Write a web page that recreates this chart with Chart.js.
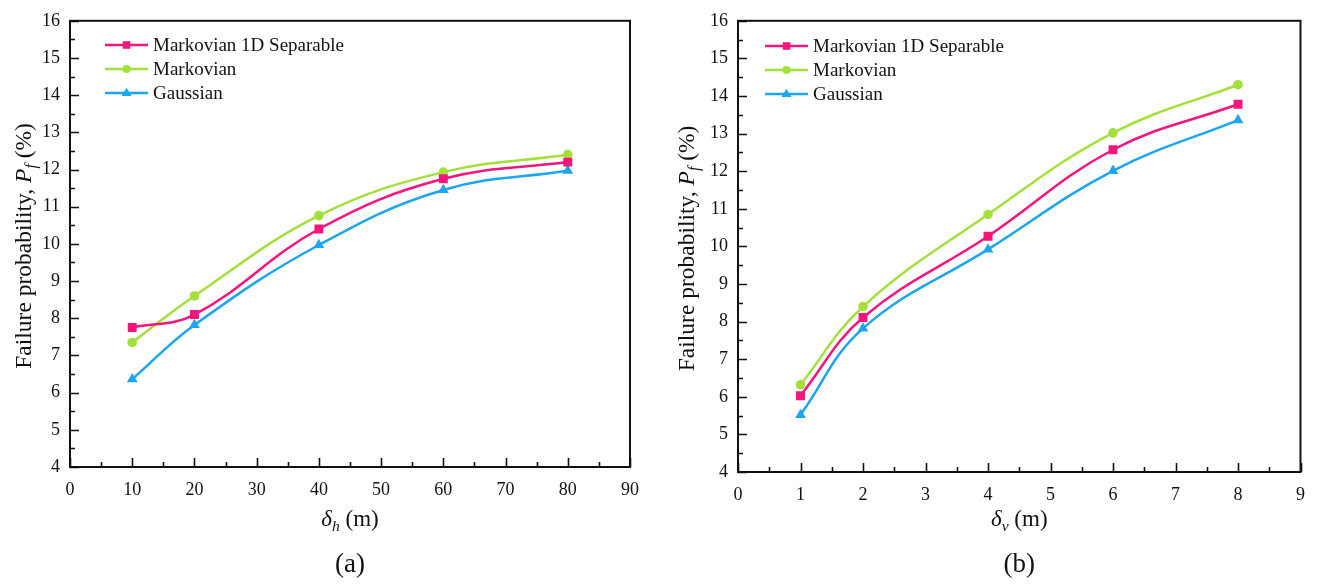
<!DOCTYPE html>
<html>
<head>
<meta charset="utf-8">
<script src="https://cdn.jsdelivr.net/npm/chart.js@4"></script>
<style>
  html, body { margin: 0; padding: 0; background: #fff; }
  body { width: 1317px; height: 585px; position: relative; overflow: hidden; }
  .box { position: absolute; top: 0; height: 585px; }
  #boxA { left: 0; width: 658px; }
  #boxB { left: 658px; width: 659px; }
</style>
</head>
<body>
<div class="box" id="boxA"><canvas id="cA"></canvas></div>
<div class="box" id="boxB"><canvas id="cB"></canvas></div>
<script>
// ---- data ----
const seriesNames = ['Markovian 1D Separable', 'Markovian', 'Gaussian'];
const xH = [10, 20, 40, 60, 80];
const sepH = [7.75, 8.10, 10.40, 11.75, 12.20];
const markH = [7.35, 8.60, 10.76, 11.93, 12.40];
const gaussH = [6.36, 7.82, 9.97, 11.45, 11.97];
const xV = [1, 2, 4, 6, 8];
const sepV = [6.03, 8.11, 10.27, 12.57, 13.78];
const markV = [6.32, 8.40, 10.85, 13.02, 14.30];
const gaussV = [5.52, 7.82, 9.92, 12.01, 13.36];
const yTicks = [4, 5, 6, 7, 8, 9, 10, 11, 12, 13, 14, 15, 16];
const xTicksH = [0, 10, 20, 30, 40, 50, 60, 70, 80, 90];
const xTicksV = [0, 1, 2, 3, 4, 5, 6, 7, 8, 9];

const COLORS = ['#F5157C', '#A3E03A', '#1BA5F2'];
const STYLES = ['rect', 'circle', 'triangle'];
const RADII = [6.3, 4.8, 6.2];
const FONT = '"Liberation Serif", "Times New Roman", serif';

function pts(xs, ys) { return xs.map((x, i) => ({ x: x, y: ys[i] })); }

function drawRich(ctx, parts, size) {
  let total = 0;
  const widths = parts.map(p => {
    const s = p.sub ? size * 0.68 : size;
    ctx.font = (p.italic ? 'italic ' : '') + s + 'px ' + FONT;
    const w = ctx.measureText(p.t).width;
    total += w;
    return w;
  });
  let x = -total / 2;
  parts.forEach((p, i) => {
    const s = p.sub ? size * 0.68 : size;
    ctx.font = (p.italic ? 'italic ' : '') + s + 'px ' + FONT;
    ctx.fillText(p.t, x, p.sub ? size * 0.28 : 0);
    x += widths[i];
  });
}

function marker(ctx, style, x, y, r, color) {
  ctx.save();
  ctx.fillStyle = color;
  ctx.beginPath();
  if (style === 'rect') {
    const s = r * Math.SQRT1_2;
    ctx.rect(x - s, y - s, 2 * s, 2 * s);
  } else if (style === 'circle') {
    ctx.arc(x, y, r, 0, Math.PI * 2);
  } else {
    const a = r;
    ctx.moveTo(x, y - a);
    ctx.lineTo(x + a * 0.95, y + a * 0.55);
    ctx.lineTo(x - a * 0.95, y + a * 0.55);
    ctx.closePath();
  }
  ctx.fill();
  ctx.restore();
}

function makeChart(id, cfg) {
  const decor = {
    id: 'decor',
    afterDraw(chart) {
      const ctx = chart.ctx;
      const a = chart.chartArea;
      const xs = chart.scales.x, ys = chart.scales.y;
      ctx.save();
      // frame
      ctx.strokeStyle = '#111';
      ctx.lineWidth = 2;
      ctx.strokeRect(a.left, a.top, a.right - a.left, a.bottom - a.top);
      // y ticks (inward)
      ctx.lineWidth = 1.6;
      ctx.beginPath();
      for (let v = ys.min; v <= ys.max + 1e-9; v += 0.5) {
        const py = Math.round(ys.getPixelForValue(v)) + 0.5;
        const major = Math.abs(v - Math.round(v)) < 1e-9;
        ctx.moveTo(a.left, py);
        ctx.lineTo(a.left + (major ? 9 : 5), py);
      }
      // x ticks (inward)
      for (let v = xs.min; v <= xs.max + 1e-9; v += cfg.minorStep) {
        const px = Math.round(xs.getPixelForValue(v)) + 0.5;
        const major = Math.abs(v / cfg.majorStep - Math.round(v / cfg.majorStep)) < 1e-9;
        ctx.moveTo(px, a.bottom);
        ctx.lineTo(px, a.bottom - (major ? 9 : 5));
      }
      ctx.stroke();

      // legend
      ctx.textBaseline = 'middle';
      ctx.textAlign = 'left';
      seriesNames.forEach((n, i) => {
        const y = cfg.legY + i * 24;
        ctx.strokeStyle = COLORS[i];
        ctx.lineWidth = 2.5;
        ctx.beginPath();
        ctx.moveTo(a.left + cfg.legX, y);
        ctx.lineTo(a.left + cfg.legX + 43, y);
        ctx.stroke();
        marker(ctx, STYLES[i], a.left + cfg.legX + 21.5, y, RADII[i] * 0.85, COLORS[i]);
        ctx.fillStyle = '#111';
        ctx.font = '19px ' + FONT;
        ctx.fillText(n, a.left + cfg.legX + 48, y + 1);
      });

      // axis titles
      ctx.fillStyle = '#111';
      ctx.textAlign = 'left';
      ctx.textBaseline = 'middle';
      ctx.save();
      ctx.translate(cfg.yTitleX, (a.top + a.bottom) / 2 + 2);
      ctx.rotate(-Math.PI / 2);
      drawRich(ctx, [
        { t: 'Failure probability, ' },
        { t: 'P', italic: true },
        { t: 'f', italic: true, sub: true },
        { t: ' (%)' }
      ], 23.5);
      ctx.restore();

      const cx = (a.left + a.right) / 2;
      ctx.save();
      ctx.translate(cx, 520);
      drawRich(ctx, [
        { t: '\u03B4', italic: true },
        { t: cfg.sub, italic: true, sub: true },
        { t: ' (m)' }
      ], 23);
      ctx.restore();

      ctx.save();
      ctx.translate(cx, 565);
      drawRich(ctx, [{ t: cfg.panel }], 27);
      ctx.restore();

      ctx.restore();
    }
  };

  return new Chart(document.getElementById(id), {
    type: 'line',
    data: {
      datasets: cfg.series.map((s, i) => ({
        label: seriesNames[i],
        data: s,
        borderColor: COLORS[i],
        backgroundColor: COLORS[i],
        borderWidth: 2.5,
        pointStyle: STYLES[i],
        pointRadius: RADII[i],
        pointHoverRadius: RADII[i],
        pointBorderWidth: 0,
        tension: 0.4,
        fill: false
      }))
    },
    options: {
      responsive: true,
      maintainAspectRatio: false,
      animation: false,
      events: [],
      layout: { padding: { left: 0, right: cfg.padRight, top: 16, bottom: 0 } },
      plugins: { legend: { display: false }, tooltip: { enabled: false } },
      scales: {
        x: {
          type: 'linear',
          min: cfg.xTicks[0],
          max: cfg.xTicks[cfg.xTicks.length - 1],
          afterBuildTicks: (s) => { s.ticks = cfg.xTicks.map(v => ({ value: v })); },
          afterFit: (s) => { s.height = cfg.xHeight; },
          grid: { display: false, drawTicks: false },
          border: { display: false },
          ticks: {
            autoSkip: false, maxRotation: 0, padding: 12, color: '#111',
            font: { family: FONT, size: 18 }
          }
        },
        y: {
          type: 'linear',
          min: yTicks[0],
          max: yTicks[yTicks.length - 1],
          afterBuildTicks: (s) => { s.ticks = yTicks.map(v => ({ value: v })); },
          afterFit: (s) => { s.width = cfg.yWidth; },
          grid: { display: false, drawTicks: false },
          border: { display: false },
          ticks: {
            autoSkip: false, padding: 10, color: '#111',
            font: { family: FONT, size: 18 }
          }
        }
      }
    },
    plugins: [decor]
  });
}

makeChart('cA', {
  series: [pts(xH, sepH), pts(xH, markH), pts(xH, gaussH)],
  xTicks: xTicksH, majorStep: 10, minorStep: 5,
  yWidth: 70, padRight: 28, xHeight: 118,
  legX: 35, legY: 45, yTitleX: 25, sub: 'h', panel: '(a)'
});
makeChart('cB', {
  series: [pts(xV, sepV), pts(xV, markV), pts(xV, gaussV)],
  xTicks: xTicksV, majorStep: 1, minorStep: 0.5,
  yWidth: 80, padRight: 13, xHeight: 113,
  legX: 27, legY: 46, yTitleX: 30, sub: 'v', panel: '(b)'
});
</script>
</body>
</html>
